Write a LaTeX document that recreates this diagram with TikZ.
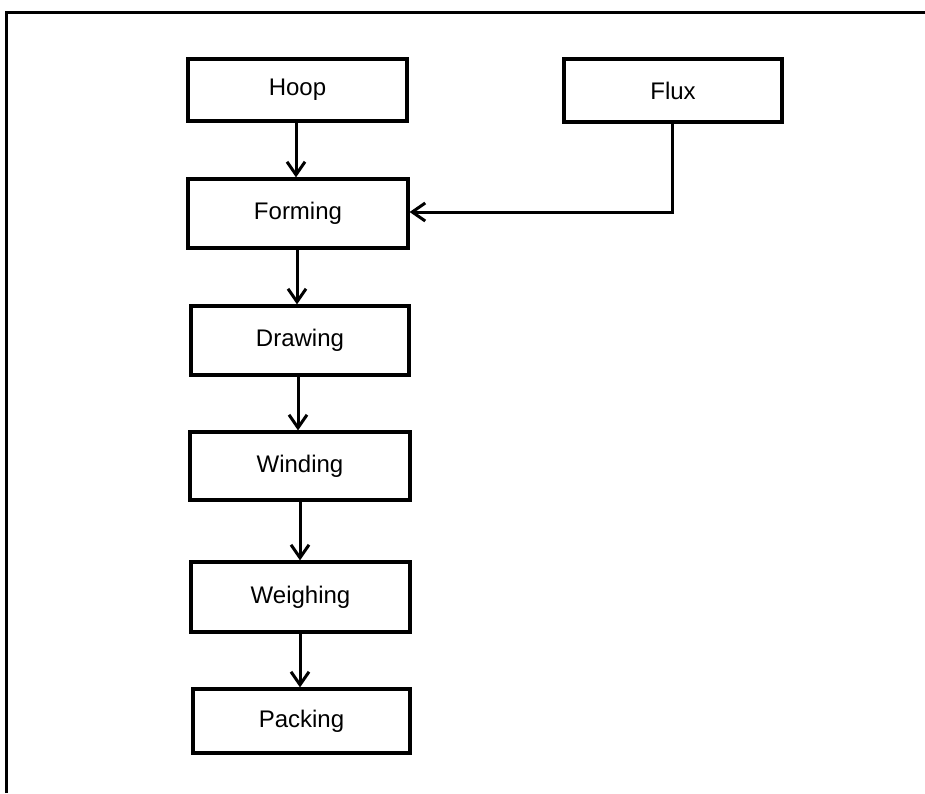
\documentclass[tikz,border=0pt]{standalone}
\usepackage{fontspec}
\setmainfont{Liberation Sans}
\usetikzlibrary{arrows.meta}
\begin{document}
\begin{tikzpicture}[x=1pt,y=-1pt,
  box/.style={draw,line width=3.2pt,minimum height=0pt,inner sep=0pt,font=\fontsize{24}{28}\selectfont},
  flow/.style={line width=3pt,-{Straight Barb[length=13pt,width=18pt,line width=3pt]}}]
\useasboundingbox (0,0) rectangle (925,793);
\draw[line width=3pt] (6,793) -- (6,12) -- (925,12);
\node[box,minimum width=219pt,minimum height=62pt] (hoop) at (297.5,90) {Hoop};
\node[box,minimum width=218pt,minimum height=63pt] (flux) at (673,90.5) {Flux};
\node[box,minimum width=220pt,minimum height=69pt] (forming) at (298,213.5) {Forming};
\node[box,minimum width=218pt,minimum height=69pt] (drawing) at (300,340.5) {Drawing};
\node[box,minimum width=220pt,minimum height=68pt] (winding) at (300,466) {Winding};
\node[box,minimum width=219pt,minimum height=70pt] (weighing) at (300.5,597) {Weighing};
\node[box,minimum width=217pt,minimum height=64pt] (packing) at (301.5,721) {Packing};
\draw[flow] (hoop.south -| 296,0) -- (forming.north -| 296,0);
\draw[flow] (forming.south -| 297,0) -- (drawing.north -| 297,0);
\draw[flow] (drawing.south -| 298,0) -- (winding.north -| 298,0);
\draw[flow] (winding.south -| 300,0) -- (weighing.north -| 300,0);
\draw[flow] (weighing.south -| 300,0) -- (packing.north -| 300,0);
\coordinate (fluxturn) at (672,212);
\draw[flow] (flux.south -| fluxturn) -- (fluxturn) -- (forming.east |- fluxturn);
\end{tikzpicture}
\end{document}
